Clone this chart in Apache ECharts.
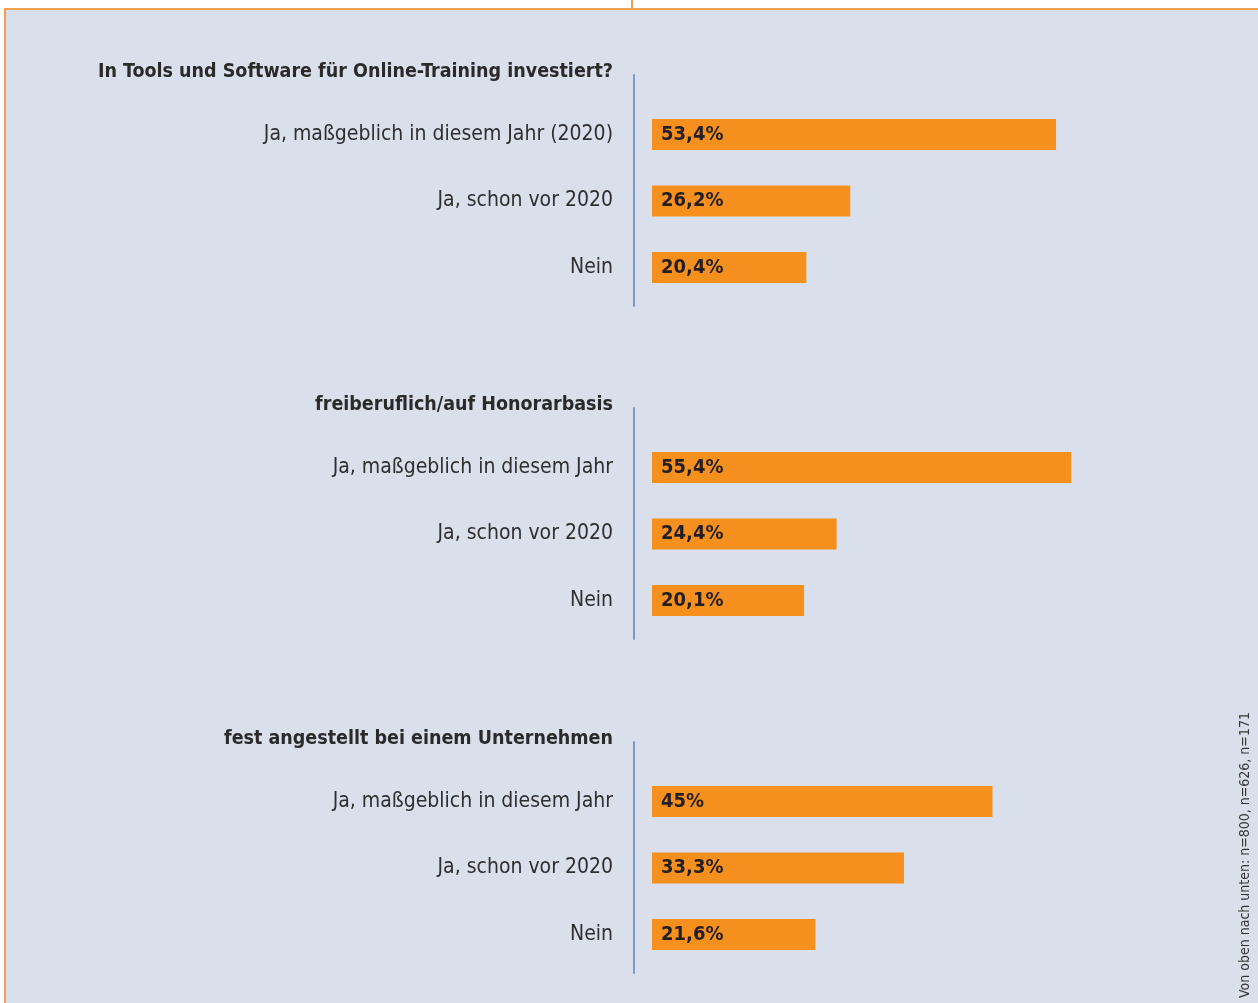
<!DOCTYPE html>
<html>
<head>
<meta charset="utf-8">
<script src="https://cdn.jsdelivr.net/npm/echarts@6/dist/echarts.min.js"></script>
<style>
  html, body { margin: 0; padding: 0; background: #ffffff; }
  #panel {
    position: absolute; left: 4px; top: 8px; right: 0; bottom: 0;
    background: #dae0eb;
    border-top: 2px solid #f4a050; border-left: 2px solid #f4a050;
  }
  #notch { position: absolute; left: 631px; top: 0; width: 2px; height: 9px; background: #f4a050; }
  #chart { position: absolute; left: 0; top: 0; width: 1258px; height: 1003px; }
</style>
</head>
<body>
<div id="panel"></div>
<div id="notch"></div>
<div id="chart"></div>
<script>
// Gruppentitel
const groupTitles = [
  'In Tools und Software für Online-Training investiert?',
  'freiberuflich/auf Honorarbasis',
  'fest angestellt bei einem Unternehmen'
];
// Kategorien je Gruppe
const categories1 = ['Ja, maßgeblich in diesem Jahr (2020)', 'Ja, schon vor 2020', 'Nein'];
const categories2 = ['Ja, maßgeblich in diesem Jahr', 'Ja, schon vor 2020', 'Nein'];
const categories3 = ['Ja, maßgeblich in diesem Jahr', 'Ja, schon vor 2020', 'Nein'];
// Werte in Prozent
const values1 = [53.4, 26.2, 20.4];
const values2 = [55.4, 24.4, 20.1];
const values3 = [45, 33.3, 21.6];
const sampleNote = 'Von oben nach unten: n=800, n=626, n=171';

const groups = [
  { title: groupTitles[0], cats: categories1, vals: values1 },
  { title: groupTitles[1], cats: categories2, vals: values2 },
  { title: groupTitles[2], cats: categories3, vals: values3 }
];

const FONT = '"DejaVu Sans Condensed", "DejaVu Sans", sans-serif';
const offsets = [0, 333, 667];

const grid = [], xAxis = [], yAxis = [], series = [], title = [];

groups.forEach((g, i) => {
  const o = offsets[i];
  // Titel
  title.push({
    text: g.title, right: 645, top: 62 + o, padding: 0,
    textStyle: { fontFamily: FONT, fontSize: 19.5, fontWeight: 'bold', color: '#2a2a2a' }
  });
  // Balken-Grid
  const bi = grid.length;
  grid.push({ left: 652, width: 454, top: 101.25 + o, height: 199.5 });
  xAxis.push({ gridIndex: bi, type: 'value', min: 0, max: 60, show: false });
  yAxis.push({
    gridIndex: bi, type: 'category', data: g.cats, inverse: true,
    axisLine: { show: false }, axisTick: { show: false }, splitLine: { show: false },
    axisLabel: { margin: 39, fontFamily: FONT, fontSize: 21, color: '#2e2e2e' }
  });
  series.push({
    type: 'bar', xAxisIndex: bi, yAxisIndex: bi, data: g.vals, barWidth: 31,
    itemStyle: { color: '#f5901f' },
    label: {
      show: true, position: 'insideLeft', distance: 9,
      formatter: p => String(p.value).replace('.', ',') + '%',
      fontFamily: FONT, fontSize: 20, fontWeight: 'bold', color: '#231f20'
    },
    silent: true
  });
  // Achsenlinie
  const li = grid.length;
  grid.push({ left: 634, width: 10, top: 75 + o, height: 231 });
  xAxis.push({ gridIndex: li, type: 'value', show: false });
  yAxis.push({
    gridIndex: li, type: 'value', min: 0, max: 1,
    axisLine: { show: true, lineStyle: { color: '#7b9acb', width: 2 } },
    axisTick: { show: false }, axisLabel: { show: false }, splitLine: { show: false }
  });
});

const myChart = echarts.init(document.getElementById('chart'));
myChart.setOption({
  backgroundColor: 'transparent',
  animation: false,
  title, grid, xAxis, yAxis, series,
  graphic: [{
    type: 'text', x: 1245, y: 855, rotation: Math.PI / 2,
    style: {
      text: sampleNote, align: 'center', verticalAlign: 'middle',
      fontFamily: '"DejaVu Sans Condensed", sans-serif', fontSize: 14, fill: '#333333'
    }
  }]
});
</script>
</body>
</html>
